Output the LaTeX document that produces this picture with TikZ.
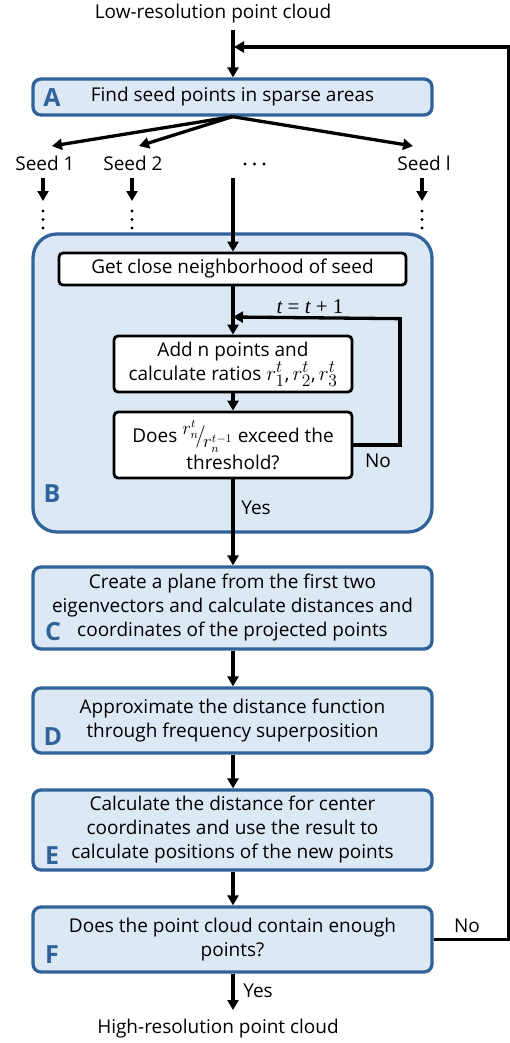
\documentclass[tikz,border=0pt]{standalone}
\usepackage{graphicx}
\usepackage{fontspec}
\setmainfont{Open Sans}
\newfontfamily\mf{Liberation Serif}
\usetikzlibrary{arrows.meta,calc}
\definecolor{boxfill}{HTML}{DDE8F5}
\definecolor{boxline}{HTML}{2F6399}
\newcommand\fs{\fontsize{19}{24}\selectfont}
\newcommand\mv[1]{{\mf\itshape #1}}
\newcommand\rst[1]{\scalebox{1.22}{$r_{#1}^{t}$}}
\newcommand\frc{\scalebox{1.3}{${}^{r_n^t}\mkern-3mu/\mkern-2mu{}_{r_n^{t-1}}$}}
\tikzset{
  arr/.style={line width=3.3pt,-{Triangle[length=10pt,width=11pt]}},
  ln/.style={line width=3.3pt},
  bluebox/.style={draw=boxline,fill=boxfill,line width=3.3pt,rounded corners=8pt,
     minimum width=399pt,align=center,font=\fs,inner sep=0pt},
  whitebox/.style={draw=black,fill=white,line width=2.8pt,rounded corners=4pt,
     align=center,font=\fs,inner sep=0pt},
  letter/.style={text=boxline,font=\fontsize{25}{25}\selectfont\bfseries,inner sep=0pt},
  lbl/.style={font=\fs,inner sep=0pt},
  vdot/.style={fill=black,draw=none,circle,minimum size=3.2pt,inner sep=0pt},
}
\begin{document}
\begin{tikzpicture}[x=1pt,y=-1pt]
\useasboundingbox (0,0) rectangle (510,1043);
% nodes
\node[lbl] (top) at (213,14) {Low-resolution point cloud};
\node[bluebox,minimum height=36pt] (A) at (232.5,97) {Find seed points in sparse areas};
\node[letter] at (52,98) {A};
\node[lbl] (s1) at (45,163) {Seed 1};
\node[lbl] (s2) at (133,163) {Seed 2};
\node[lbl] (sl) at (424,163) {Seed l};
\node[vdot] (h1) at (245,164) {};
\node[vdot] (h2) at (254.5,164) {};
\node[vdot] (h3) at (264,164) {};
\coordinate (t1) at (52,146);
\coordinate (t2) at (139,146);
\coordinate (tl) at (413,146);
% B container
\node[draw=boxline,fill=boxfill,line width=3.3pt,rounded corners=24pt,
      minimum width=399pt,minimum height=298pt,inner sep=0pt] (B) at (232.5,383) {};
\node[letter] at (52,494) {B};
\node[whitebox,minimum width=347pt,minimum height=32pt] (G) at (232.5,269) {Get close neighborhood of seed};
\node[whitebox,minimum width=238pt,minimum height=56pt] (N) at (233,364)
  {Add n points and\\calculate ratios \rst{1},\,\rst{2},\,\rst{3}};
\node[whitebox,minimum width=238pt,minimum height=66pt] (Q) at (233,445)
  {Does \frc\ exceed the\\[2pt]threshold?};
\node[lbl] (tt) at (310,307) {\mf\fontsize{21}{21}\selectfont\mv{t} = \mv{t} + 1};
\node[lbl] (no1) at (378,461) {No};
\node[lbl] (yes1) at (256,508) {Yes};
\node[bluebox,minimum height=82pt] (C) at (232.5,608)
  {Create a plane from the first two\\eigenvectors and calculate distances and\\coordinates of the projected points};
\node[letter] at (53,632) {C};
\node[bluebox,minimum height=65pt] (D) at (232.5,720.5)
  {Approximate the distance function\\through frequency superposition};
\node[letter] at (53,737) {D};
\node[bluebox,minimum height=80pt] (E) at (232.5,830)
  {Calculate the distance for center\\coordinates and use the result to\\calculate positions of the new points};
\node[letter] at (52,856) {E};
\node[bluebox,minimum height=65pt] (F) at (232.5,939.5)
  {Does the point cloud contain enough\\points?};
\node[letter] at (52,955) {F};
\node[lbl] (no2) at (467,926) {No};
\node[lbl] (yes2) at (258,991) {Yes};
\node[lbl] (bot) at (218,1029) {High-resolution point cloud};
% connectors
\coordinate (in) at (233,30);
\draw[arr] (in) -- (A.north -| in);
\coordinate (fbR) at (509,47);
\coordinate (fbL) at (234,47);
\draw[ln] (F.east) -| (fbR);
\draw[arr] ($(fbR)+(0,1.65)$) |- (fbL);
\draw[arr] (A.south) -- (t1);
\draw[arr] (A.south) -- (t2);
\draw[arr] (A.south) -- (tl);
\foreach \x/\n in {43/a,132/b,422/c}{
  \draw[arr] (\x,178) -- (\x,201);
  \node[vdot] at (\x,211) {};
  \node[vdot] at (\x,219.5) {};
  \node[vdot] at (\x,228) {};
}
\coordinate (mid) at (233,178);
\draw[arr] (mid) -- (G.north -| mid);
\draw[arr] (G.south -| mid) -- (N.north -| mid);
\draw[arr] (N.south -| mid) -- (Q.north -| mid);
\coordinate (lp) at (400,317);
\draw[ln] (Q.east) -| (lp);
\draw[arr] ($(lp)+(0,1.65)$) -- (mid |- lp);
\draw[arr] (Q.south -| mid) -- (C.north -| mid);
\draw[arr] (C.south -| mid) -- (D.north -| mid);
\draw[arr] (D.south -| mid) -- (E.north -| mid);
\draw[arr] (E.south -| mid) -- (F.north -| mid);
\draw[arr] (F.south -| mid) -- (mid |- 0,1010);
\end{tikzpicture}
\end{document}
